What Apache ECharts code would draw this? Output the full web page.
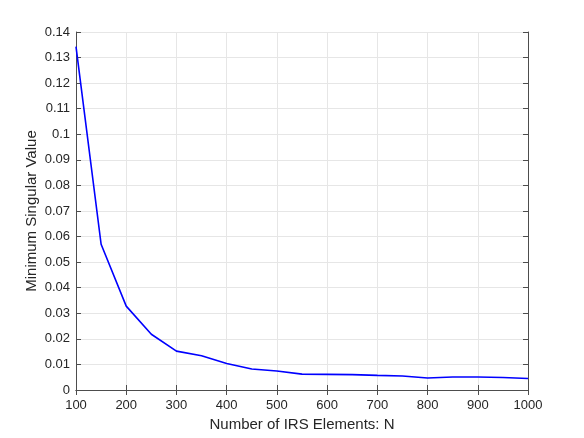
<!DOCTYPE html>
<html>
<head>
<meta charset="utf-8">
<script src="https://cdn.jsdelivr.net/npm/echarts@6/dist/echarts.min.js"></script>
<style>
  html, body { margin: 0; padding: 0; background: #fff; }
  #main { width: 584px; height: 438px; }
</style>
</head>
<body>
<div id="main"></div>
<script>
// IRS element counts and minimum singular values
var elements = [100, 150, 200, 250, 300, 350, 400, 450, 500, 550, 600, 650, 700, 750, 800, 850, 900, 950, 1000];
var minSingular = [0.1343, 0.0570, 0.0328, 0.0218, 0.0152, 0.0134, 0.0104, 0.0082, 0.0074, 0.0062,
                   0.0061, 0.0060, 0.0057, 0.0055, 0.0047, 0.0051, 0.0051, 0.0049, 0.0045];
var yTicks = [0, 0.01, 0.02, 0.03, 0.04, 0.05, 0.06, 0.07, 0.08, 0.09, 0.1, 0.11, 0.12, 0.13, 0.14];

var chart = echarts.init(document.getElementById('main'));
var font = 'Liberation Sans, Arial, sans-serif';
var axisColor = '#262626';

var points = elements.map(function (n, i) { return [n, minSingular[i]]; });

var boxAxis = {
  axisLine: { show: true, lineStyle: { color: '#4d4d4d', width: 1 } },
  axisTick: { show: true, inside: true, length: 5, lineStyle: { color: '#4d4d4d' } },
  axisLabel: { show: false },
  splitLine: { show: false }
};

var option = {
  animation: false,
  backgroundColor: '#fff',
  grid: { left: 76, right: 56, top: 32, bottom: 48 },
  xAxis: [
    {
      type: 'value', min: 100, max: 1000, interval: 100,
      name: 'Number of IRS Elements: N',
      nameLocation: 'middle', nameGap: 26,
      nameTextStyle: { fontFamily: font, fontSize: 15, color: axisColor },
      axisLine: { show: true, lineStyle: { color: '#4d4d4d', width: 1 } },
      axisTick: { show: true, inside: true, length: 5, lineStyle: { color: '#4d4d4d' } },
      axisLabel: {
        fontFamily: font, fontSize: 13, color: axisColor, margin: 9,
        formatter: function (v) { return String(v); }
      },
      splitLine: { show: true, lineStyle: { color: '#e6e6e6', width: 1 } }
    },
    Object.assign({ type: 'value', min: 100, max: 1000, interval: 100, position: 'top' }, boxAxis)
  ],
  yAxis: [
    {
      type: 'value', min: 0, max: 0.14, interval: 0.01,
      name: 'Minimum Singular Value',
      nameLocation: 'middle', nameGap: 37, nameMoveOverlap: false,
      nameTextStyle: { fontFamily: font, fontSize: 15, color: axisColor },
      axisLine: { show: true, lineStyle: { color: '#4d4d4d', width: 1 } },
      axisTick: { show: true, inside: true, length: 5, lineStyle: { color: '#4d4d4d' } },
      axisLabel: {
        fontFamily: font, fontSize: 13, color: axisColor, margin: 6,
        formatter: function (v) {
          var r = Math.round(v * 100) / 100;
          return yTicks.indexOf(r) >= 0 ? String(r) : '';
        }
      },
      splitLine: { show: true, lineStyle: { color: '#e6e6e6', width: 1 } }
    },
    Object.assign({ type: 'value', min: 0, max: 0.14, interval: 0.01, position: 'right' }, boxAxis)
  ],
  series: [
    {
      type: 'line',
      data: points,
      showSymbol: false,
      lineStyle: { color: '#0000ff', width: 1.6 },
      itemStyle: { color: '#0000ff' }
    }
  ]
};

chart.setOption(option);
</script>
</body>
</html>
